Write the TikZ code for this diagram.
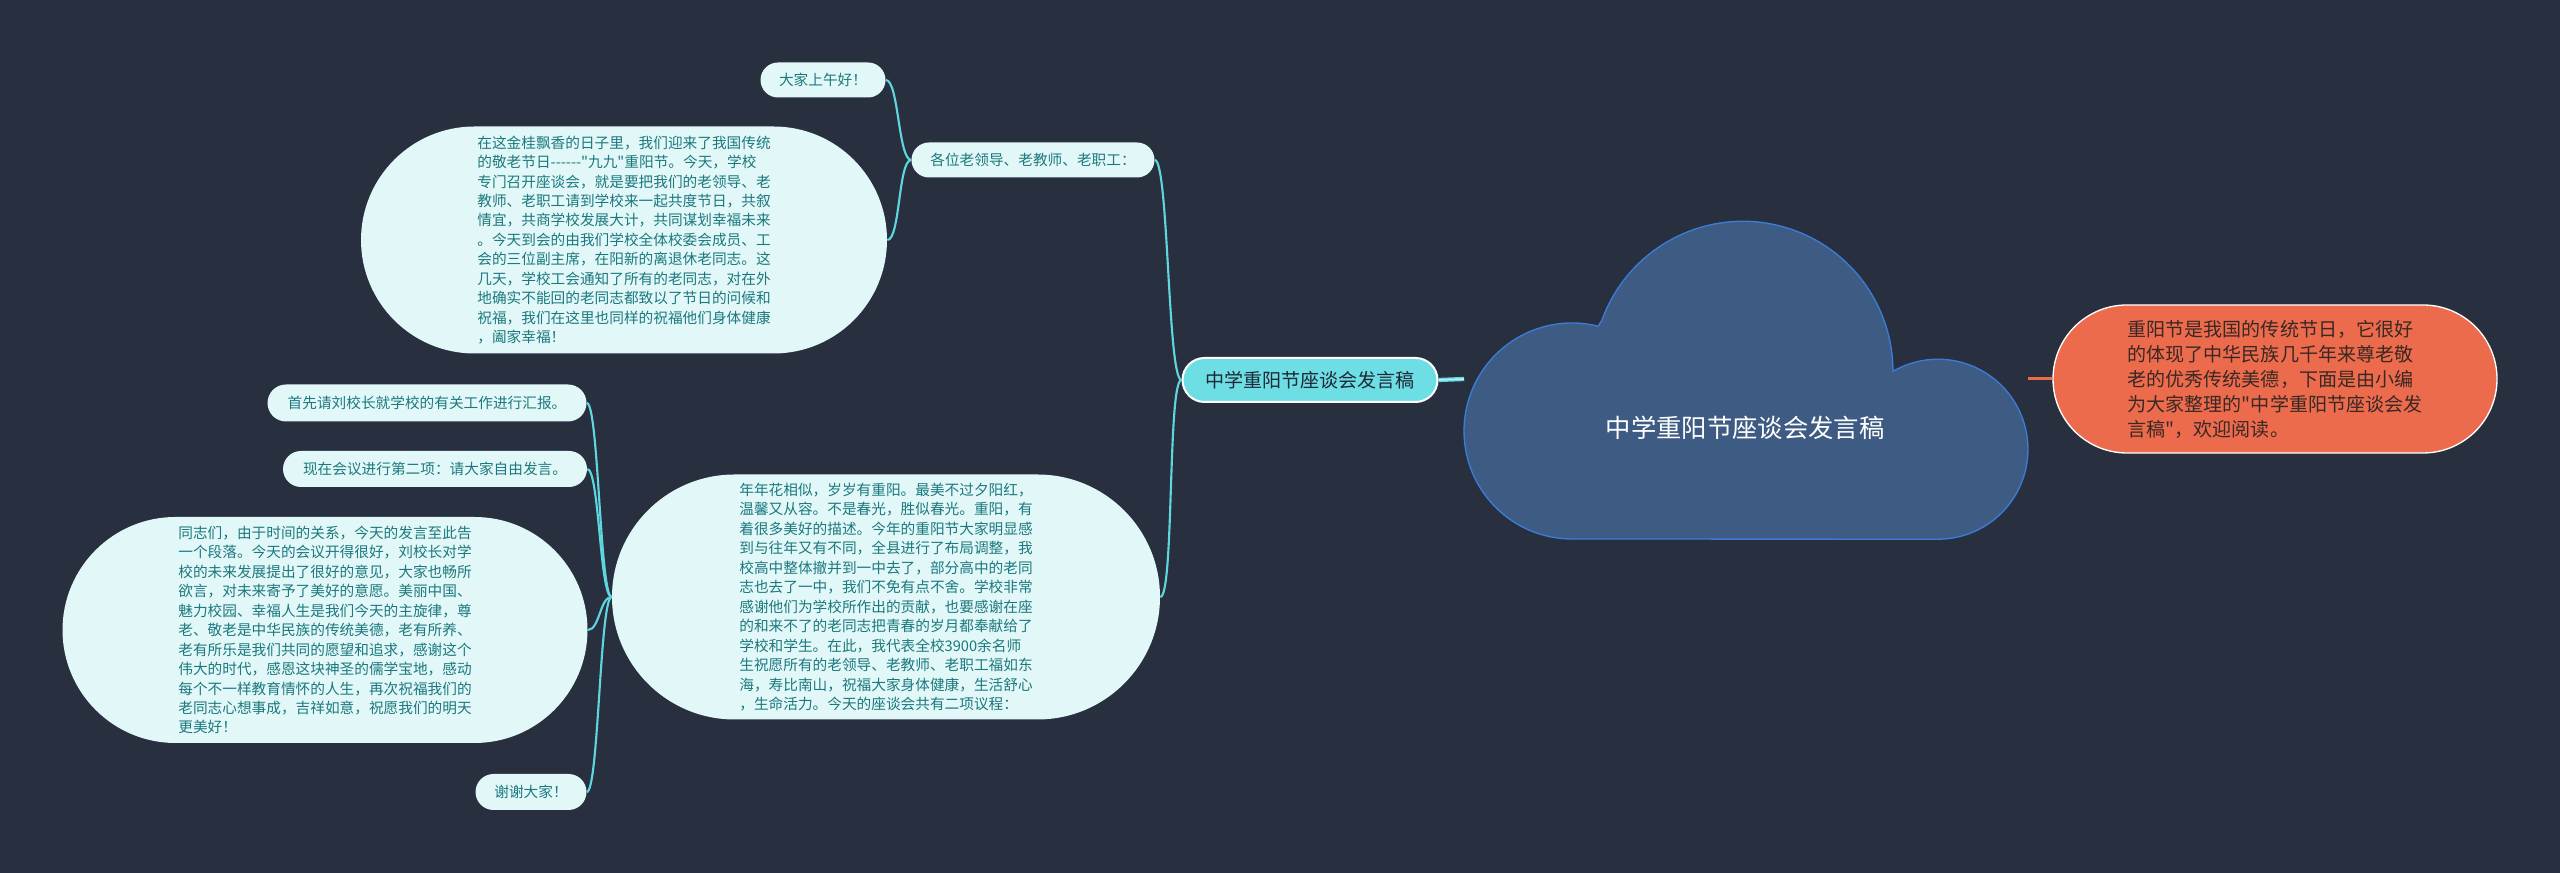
\documentclass[tikz,border=0pt]{standalone}
\usepackage{fontspec}
\usepackage{tikz}
\usetikzlibrary{arrows,positioning,calc}
\newfontfamily\cjk{Noto Sans CJK SC}
\definecolor{bgnavy}{RGB}{40,47,62}
\definecolor{leaffill}{RGB}{226,248,248}
\definecolor{leaftext}{RGB}{28,120,126}
\definecolor{cyanline}{RGB}{94,214,222}
\definecolor{branchfill}{RGB}{108,222,228}
\definecolor{darktext}{RGB}{30,40,54}
\definecolor{cloudfill}{RGB}{62,91,131}
\definecolor{cloudedge}{RGB}{58,125,216}
\definecolor{introfill}{RGB}{236,107,77}
\definecolor{introtext}{RGB}{58,40,36}
\colorlet{linkcol}{cyanline}
\def\px{0.75pt}
\tikzset{
  pill/.style 2 args={rectangle,minimum width=#1*\px,minimum height=#2*\px,rounded corners=#2*\px/2,inner sep=0pt},
  leaf/.style={fill=leaffill,text=leaftext,font=\cjk\fontsize{11}{14.6}\selectfont},
  para/.style={leaf,align=left},
  branch/.style={fill=branchfill,draw=white,line width=1.5pt,text=darktext,font=\cjk\fontsize{14.3}{17}\selectfont},
  roottxt/.style={text=white,font=\cjk\fontsize{19}{22}\selectfont},
  intro/.style={fill=introfill,draw=white,line width=1pt,text=introtext,align=left,font=\cjk\fontsize{14.3}{18.75}\selectfont},
  link/.style={draw=linkcol,line width=1.6pt},
}

\begin{document}
\begin{tikzpicture}[x=\px,y=\px]
  \useasboundingbox (0,0) rectangle (2560,873);
  \fill[bgnavy] (0,0) rectangle (2560,873);

  %% the cloud in the middle
  \filldraw[fill=cloudfill,draw=cloudedge,line width=1pt]
    (1572,334) arc[start angle=270,end angle=76,radius=108]
    -- (1602,553) arc[start angle=160,end angle=0,radius=150]
    arc[start angle=120,end angle=-90,radius=90] -- cycle;
  \node[roottxt] (root) at (1745,445) {中学重阳节座谈会发言稿};
  \coordinate (cloudw) at (1464,494);
  \coordinate (cloude) at (2028,494);

  \node[intro,pill={444}{148}] (intro) at (2275,494) {重阳节是我国的传统节日，它很好\\的体现了中华民族几千年来尊老敬\\老的优秀传统美德，下面是由小编\\为大家整理的"中学重阳节座谈会发\\言稿"，欢迎阅读。};
  \node[branch,pill={255}{44}] (main) at (1310,493) {中学重阳节座谈会发言稿};

  \node[leaf,pill={243}{35}] (gewei) at (1033,713) {各位老领导、老教师、老职工：};
  \node[leaf,pill={125}{35}] (dajia) at (823,793) {大家上午好！};
  \node[para,pill={526}{227}] (zhici) at (624,633) {在这金桂飘香的日子里，我们迎来了我国传统\\的敬老节日------"九九"重阳节。今天，学校\\专门召开座谈会，就是要把我们的老领导、老\\教师、老职工请到学校来一起共度节日，共叙\\情宜，共商学校发展大计，共同谋划幸福未来\\。今天到会的由我们学校全体校委会成员、工\\会的三位副主席，在阳新的离退休老同志。这\\几天，学校工会通知了所有的老同志，对在外\\地确实不能回的老同志都致以了节日的问候和\\祝福，我们在这里也同样的祝福他们身体健康\\，阖家幸福！};

  \node[para,pill={548}{245}] (huigu) at (886,276) {年年花相似，岁岁有重阳。最美不过夕阳红，\\温馨又从容。不是春光，胜似春光。重阳，有\\着很多美好的描述。今年的重阳节大家明显感\\到与往年又有不同，全县进行了布局调整，我\\校高中整体撤并到一中去了，部分高中的老同\\志也去了一中，我们不免有点不舍。学校非常\\感谢他们为学校所作出的贡献，也要感谢在座\\的和来不了的老同志把青春的岁月都奉献给了\\学校和学生。在此，我代表全校3900余名师\\生祝愿所有的老领导、老教师、老职工福如东\\海，寿比南山，祝福大家身体健康，生活舒心\\，生命活力。今天的座谈会共有二项议程：};
  \node[leaf,pill={319}{37}] (huibao) at (427,470) {首先请刘校长就学校的有关工作进行汇报。};
  \node[leaf,pill={304}{36}] (fayan) at (435,404) {现在会议进行第二项：请大家自由发言。};
  \node[para,pill={525}{226}] (jieyu) at (325,243) {同志们，由于时间的关系，今天的发言至此告\\一个段落。今天的会议开得很好，刘校长对学\\校的未来发展提出了很好的意见，大家也畅所\\欲言，对未来寄予了美好的意愿。美丽中国、\\魅力校园、幸福人生是我们今天的主旋律，尊\\老、敬老是中华民族的传统美德，老有所养、\\老有所乐是我们共同的愿望和追求，感谢这个\\伟大的时代，感恩这块神圣的儒学宝地，感动\\每个不一样教育情怀的人生，再次祝福我们的\\老同志心想事成，吉祥如意，祝愿我们的明天\\更美好！};
  \node[leaf,pill={111}{36}] (xiexie) at (531,81) {谢谢大家！};

  %% connectors
  \draw[linkcol,line width=1pt,double=leaffill!70!linkcol,double distance=1.2pt] (main.east) -- (cloudw);
  \draw[introfill,line width=2.25pt] (cloude) -- (intro.west);
  \draw[link] (main.west) .. controls +(-14,0) and +(14,0) .. (gewei.east);
  \draw[link] (main.west) .. controls +(-14,0) and +(14,0) .. (huigu.east);
  \draw[link] (gewei.west) .. controls +(-13,0) and +(13,0) .. (dajia.east);
  \draw[link] (gewei.west) .. controls +(-13,0) and +(13,0) .. (zhici.east);
  \foreach \kid in {huibao,fayan,jieyu,xiexie}
    \draw[link] (huigu.west) .. controls +(-12,0) and +(12,0) .. (\kid.east);
\end{tikzpicture}
\end{document}
